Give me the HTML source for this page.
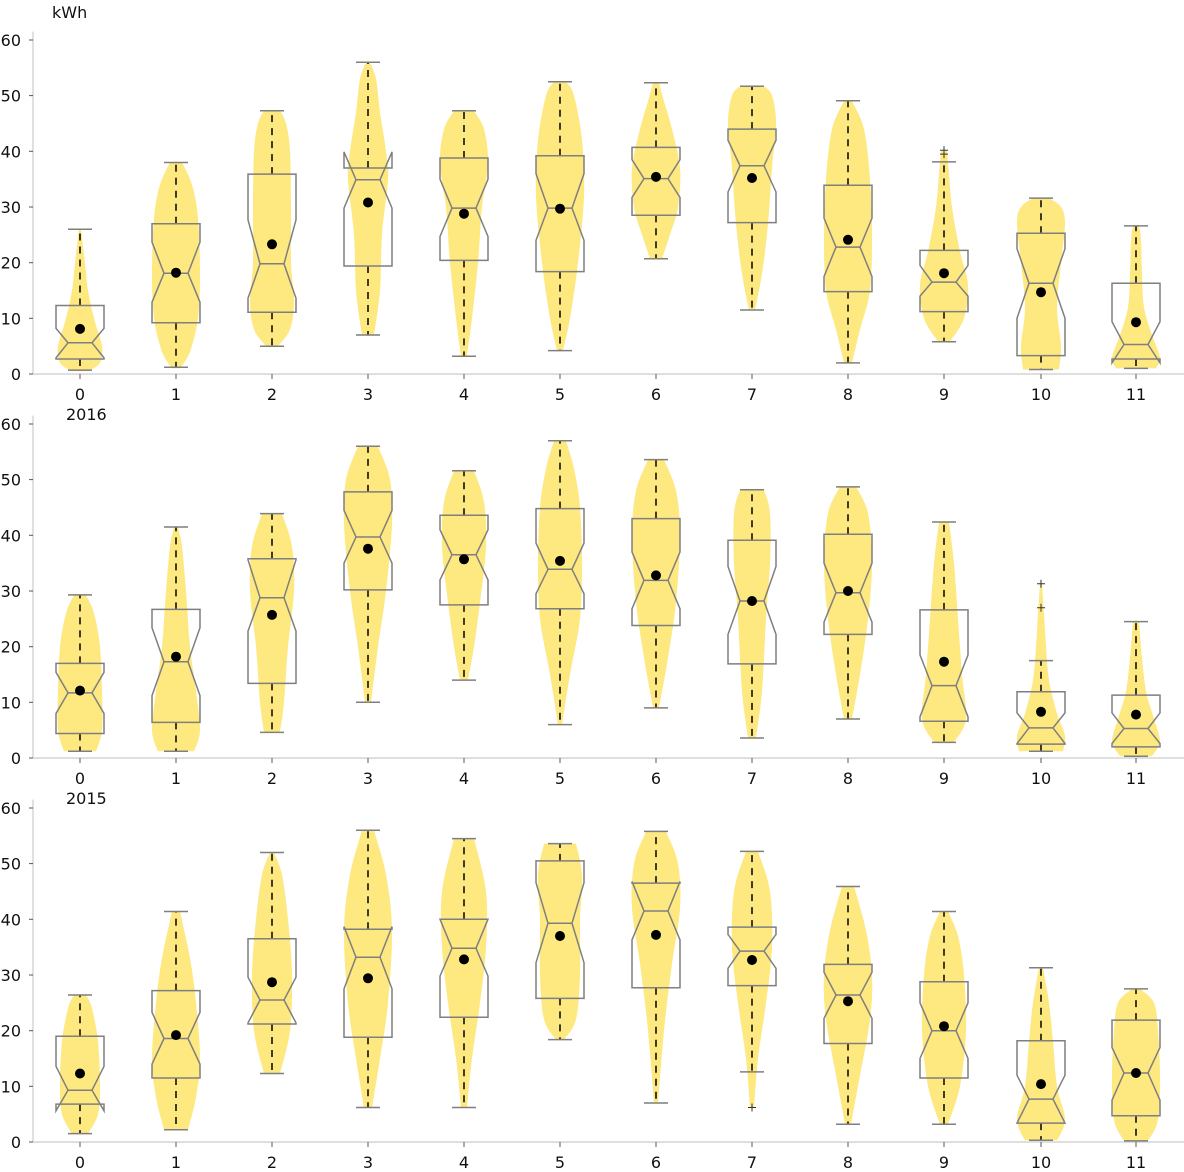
<!DOCTYPE html>
<html><head><meta charset="utf-8"><style>
html,body{margin:0;padding:0;background:#fff;}
svg{display:block;font-family:"DejaVu Sans","Liberation Sans",sans-serif;}
</style></head><body>
<svg id="s" width="1184" height="1172" viewBox="0 0 1184 1172" xmlns="http://www.w3.org/2000/svg"></svg>
<script>
var S=5.567;
var xs=[80,176,272,368,464,560,656,752,848,944,1041,1136];
var P=[
{y0:374,title:"kWh",tx:52,ty:18,d:[
[0.7,2.7,5.6,12.3,26,8.1,2.9,8.2,[],[[0.5,8],[2,20],[5,22],[10,14],[15,8],[20,5],[26,1]]],
[1.2,9.2,18.1,27,38,18.2,12.9,23.7,[],[[1,4],[4,14],[10,22],[18,24],[28,22],[34,16],[38,6]]],
[5,11.1,19.8,35.9,47.3,23.3,13.6,27.7,[],[[5,6],[8,18],[13,22],[20,19],[30,19],[40,18],[45,14],[47.3,8]]],
[7,19.4,34.9,37,56,30.8,29.8,39.9,[],[[7,6],[15,12],[25,14],[35,20],[40,18],[47,12],[53,8],[56,2]]],
[3.2,20.4,29.8,38.8,47.3,28.8,24.7,35,[],[[3.2,3],[10,8],[20,14],[30,18],[38,24],[44,20],[47.3,10]]],
[4.2,18.4,29.8,39.2,52.5,29.7,24,36,[],[[4.2,3],[10,10],[20,18],[32,24],[42,22],[50,14],[52.5,6]]],
[20.7,28.5,35.1,40.7,52.3,35.4,31.7,38.5,[],[[20.7,6],[25,14],[30,22],[37,24],[44,16],[49,8],[52.3,3]]],
[11.5,27.2,37.4,44,51.7,35.2,32.7,42,[],[[11.5,3],[18,10],[27,16],[37,20],[45,24],[50,20],[51.7,12]]],
[2,14.8,22.8,33.9,49.1,24.1,17.5,28,[],[[2,4],[8,12],[15,22],[25,24],[35,22],[44,16],[49,4]]],
[5.8,11.2,16.5,22.2,38.1,18.1,14,19.5,[39.5,40.2],[[5.8,6],[10,20],[16,24],[22,16],[30,8],[36,5],[40,3]]],
[0.8,3.3,16.3,25.3,31.6,14.7,10,22.5,[],[[0.8,18],[5,20],[12,16],[20,20],[27,24],[30,20],[31.6,8]]],
[1,2.7,5.3,16.3,26.6,9.3,2,9.4,[],[[1,20],[3,24],[7,16],[12,8],[18,6],[24,5],[26.6,3]]]
]},
{y0:758,title:"2016",tx:66,ty:420,d:[
[1.2,4.4,11.7,17,29.3,12.1,8,15.4,[],[[1.2,16],[5,22],[12,22],[20,20],[26,14],[29.3,6]]],
[1.2,6.4,17.3,26.7,41.5,18.2,11.2,23.4,[],[[1.2,18],[5,24],[12,20],[20,14],[30,10],[38,6],[41.5,2]]],
[4.6,13.4,28.8,35.8,43.9,25.7,22.8,35.6,[],[[4.6,8],[10,12],[20,16],[30,22],[38,20],[43.9,10]]],
[10,30.2,39.7,47.8,56,37.6,35,44.5,[],[[10,3],[20,10],[30,18],[42,24],[50,22],[56,10]]],
[14,27.5,36.5,43.6,51.6,35.7,32,41,[],[[14,4],[20,10],[28,16],[38,22],[46,20],[51.6,10]]],
[6,26.8,33.9,44.8,57,35.4,29.5,38.6,[],[[6,2],[15,10],[25,20],[35,22],[45,20],[52,14],[57,6]]],
[9,23.8,31.9,43,53.6,32.8,26.8,37,[],[[9,3],[18,12],[28,20],[40,24],[48,20],[53.6,8]]],
[3.6,16.9,28.2,39.1,48.2,28.2,22.2,34.4,[],[[3.6,4],[12,10],[25,14],[35,18],[44,18],[48.2,12]]],
[7,22.2,29.7,40.2,48.7,30,24.4,35,[],[[7,4],[15,12],[25,20],[35,24],[44,20],[48.7,8]]],
[2.8,6.6,13,26.6,42.4,17.3,7.4,18.5,[],[[2.8,10],[7,22],[15,18],[25,14],[35,10],[42.4,5]]],
[1.2,2.5,5.4,11.9,17.5,8.3,2.6,8.1,[27,31.3],[[1.2,22],[4,24],[8,16],[14,8],[20,5],[26,3],[31.3,1]]],
[0.3,2,5.3,11.3,24.5,7.8,2.6,8.1,[],[[0.3,16],[3,24],[7,18],[12,10],[18,6],[24.5,3]]]
]},
{y0:1142,title:"2015",tx:66,ty:804,d:[
[1.5,6.8,9.3,19,26.4,12.3,5.6,13.6,[],[[1.5,8],[5,18],[10,20],[18,18],[24,12],[26.4,6]]],
[2.2,11.5,18.6,27.2,41.4,19.2,14,23.3,[],[[2.2,12],[8,20],[15,24],[25,20],[33,14],[41.4,4]]],
[12.3,21.2,25.5,36.5,52,28.7,21.4,29.6,[],[[12.3,8],[20,18],[30,20],[40,16],[48,10],[52,2]]],
[6.2,18.8,33.2,38.2,56,29.4,27.5,38.7,[],[[6.2,4],[15,12],[25,20],[38,24],[48,18],[56,6]]],
[6.2,22.4,34.8,40,54.5,32.8,29.8,40,[],[[6.2,3],[15,8],[25,16],[35,22],[45,22],[54.5,10]]],
[18.4,25.8,39.3,50.5,53.6,37,32.2,46.6,[],[[18.4,4],[22,16],[30,20],[40,20],[48,22],[53.6,16]]],
[7,27.7,41.5,46.5,55.8,37.2,36.3,46.8,[],[[7,2],[20,8],[32,16],[42,24],[50,22],[55.8,10]]],
[12.6,28.1,34.3,38.6,52.2,32.7,31.2,37.3,[6.2],[[6.2,2],[15,6],[25,14],[35,20],[45,18],[52.2,6]]],
[3.2,17.7,26.4,31.9,45.9,25.3,22.2,30.5,[],[[3.2,3],[12,12],[22,22],[30,24],[38,18],[45.9,6]]],
[3.2,11.5,20,28.8,41.4,20.8,15,25,[],[[3.2,4],[10,16],[20,22],[30,20],[37,14],[41.4,4]]],
[0.3,3.4,7.7,18.2,31.3,10.4,3.4,12,[],[[0.3,16],[4,24],[10,16],[18,12],[25,8],[31.3,2]]],
[0.2,4.7,12.4,21.9,27.5,12.4,7.5,17,[],[[0.2,12],[4,22],[12,24],[20,22],[25,18],[27.5,4]]]
]}];
var o=[];
function smooth(pts){
  var s="M"+pts[0][0]+","+pts[0][1];
  for(var i=0;i<pts.length-1;i++){
    var p0=pts[i-1]||pts[i],p1=pts[i],p2=pts[i+1],p3=pts[i+2]||p2;
    var c1x=p1[0]+(p2[0]-p0[0])/6,c1y=p1[1]+(p2[1]-p0[1])/6;
    var c2x=p2[0]-(p3[0]-p1[0])/6,c2y=p2[1]-(p3[1]-p1[1])/6;
    s+="C"+c1x.toFixed(1)+","+c1y.toFixed(1)+" "+c2x.toFixed(1)+","+c2y.toFixed(1)+" "+p2[0]+","+p2[1];
  }
  return s;
}
P.forEach(function(p){
  var y0=p.y0;function Y(v){return +(y0-v*S).toFixed(1);}
  o.push('<line x1="33" y1="'+(Y(61.5))+'" x2="33" y2="'+y0+'" stroke="#ccc" stroke-width="1.2"/>');
  o.push('<line x1="33" y1="'+y0+'" x2="1184" y2="'+y0+'" stroke="#ccc" stroke-width="1.2"/>');
  for(var t=0;t<=60;t+=10){o.push('<line x1="29" x2="33" y1="'+Y(t)+'" y2="'+Y(t)+'" stroke="#555"/>');
    o.push('<text x="21" y="'+(Y(t)+6)+'" font-size="16" text-anchor="end" fill="#111">'+t+'</text>');}
  o.push('<text x="'+p.tx+'" y="'+p.ty+'" font-size="16" fill="#111">'+p.title+'</text>');
  p.d.forEach(function(d,i){
    var x=xs[i];
    o.push('<line x1="'+x+'" x2="'+x+'" y1="'+y0+'" y2="'+(y0+5)+'" stroke="#555"/>');
    o.push('<text x="'+x+'" y="'+(y0+26)+'" font-size="16" text-anchor="middle" fill="#111">'+i+'</text>');
    var v=d[9],L=[],R=[];
    v.forEach(function(q){R.push([+(x+q[1]).toFixed(1),Y(q[0])]);L.push([+(x-q[1]).toFixed(1),Y(q[0])]);});
    L.reverse();
    o.push('<path d="'+smooth(R)+' L'+L[0][0]+','+L[0][1]+smooth(L).replace(/^M[^C]*/,'')+'Z" fill="#fee880"/>');
  });
  p.d.forEach(function(d,i){
    var x=xs[i],g='#7f7f7f';
    var lo=Y(d[0]),q1=Y(d[1]),md=Y(d[2]),q3=Y(d[3]),hi=Y(d[4]),nl=Y(d[6]),nh=Y(d[7]);
    o.push('<line x1="'+x+'" x2="'+x+'" y1="'+q3+'" y2="'+hi+'" stroke="#000" stroke-width="1.5" stroke-dasharray="7,6"/>');
    o.push('<line x1="'+x+'" x2="'+x+'" y1="'+q1+'" y2="'+lo+'" stroke="#000" stroke-width="1.5" stroke-dasharray="7,6"/>');
    o.push('<line x1="'+(x-12)+'" x2="'+(x+12)+'" y1="'+hi+'" y2="'+hi+'" stroke="'+g+'" stroke-width="1.5"/>');
    o.push('<line x1="'+(x-12)+'" x2="'+(x+12)+'" y1="'+lo+'" y2="'+lo+'" stroke="'+g+'" stroke-width="1.5"/>');
    var a=x-24,b=x+24;
    o.push('<path d="M'+a+','+q1+' L'+a+','+nl+' L'+(x-12)+','+md+' L'+a+','+nh+' L'+a+','+q3+' L'+b+','+q3+' L'+b+','+nh+' L'+(x+12)+','+md+' L'+b+','+nl+' L'+b+','+q1+'Z" fill="none" stroke="'+g+'" stroke-width="1.5"/>');
    o.push('<line x1="'+(x-12)+'" x2="'+(x+12)+'" y1="'+md+'" y2="'+md+'" stroke="'+g+'" stroke-width="1.5"/>');
    d[8].forEach(function(f){var fy=Y(f);o.push('<path d="M'+(x-4)+','+fy+'H'+(x+4)+'M'+x+','+(fy-4)+'V'+(fy+4)+'" stroke="#333" stroke-width="1"/>');});
    o.push('<circle cx="'+x+'" cy="'+Y(d[5])+'" r="5" fill="#000"/>');
  });
});
document.getElementById('s').innerHTML=o.join('');
</script>
</body></html>
